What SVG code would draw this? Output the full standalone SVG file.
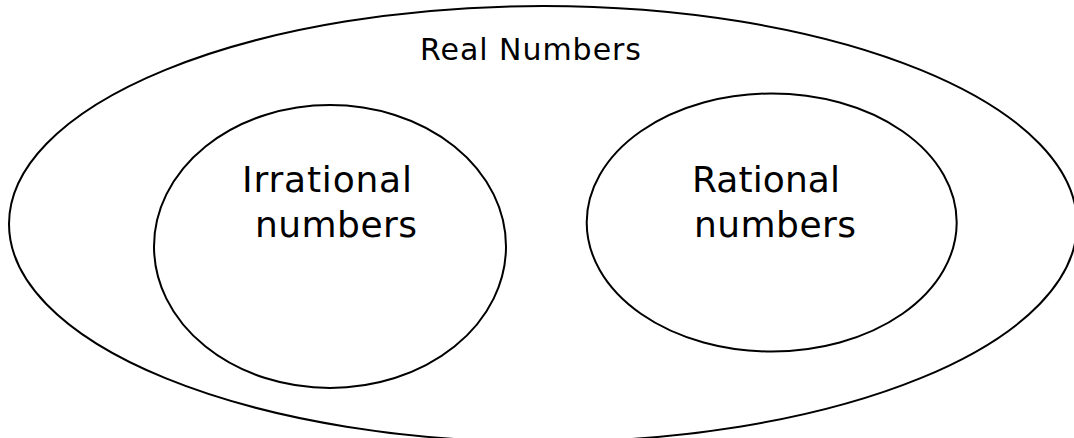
<svg xmlns="http://www.w3.org/2000/svg" width="1074" height="438" viewBox="0 0 1074 438">
  <style>
    .set { fill: none; stroke: #000; stroke-width: 2; }
    .lbl { font-family: "DejaVu Sans", Verdana, sans-serif; fill: #000; }
    .big { font-size: 36px; }
    .title { font-size: 30px; }
  </style>
  <rect width="1074" height="438" fill="#fff"/>
  <g id="real">
    <ellipse class="set" cx="543" cy="224" rx="534" ry="218"/>
    <text class="lbl title" x="420" y="60" textLength="221">Real Numbers</text>
  </g>
  <g id="irrational">
    <ellipse class="set" cx="330" cy="246.5" rx="176" ry="141.5"/>
    <text class="lbl big" x="242" y="192" textLength="170">Irrational</text>
    <text class="lbl big" x="255" y="237" textLength="162">numbers</text>
  </g>
  <g id="rational">
    <ellipse class="set" cx="771.7" cy="222.5" rx="185" ry="129"/>
    <text class="lbl big" x="692" y="192" textLength="148">Rational</text>
    <text class="lbl big" x="694" y="237" textLength="162">numbers</text>
  </g>
  <g id="connectors"/>
</svg>
